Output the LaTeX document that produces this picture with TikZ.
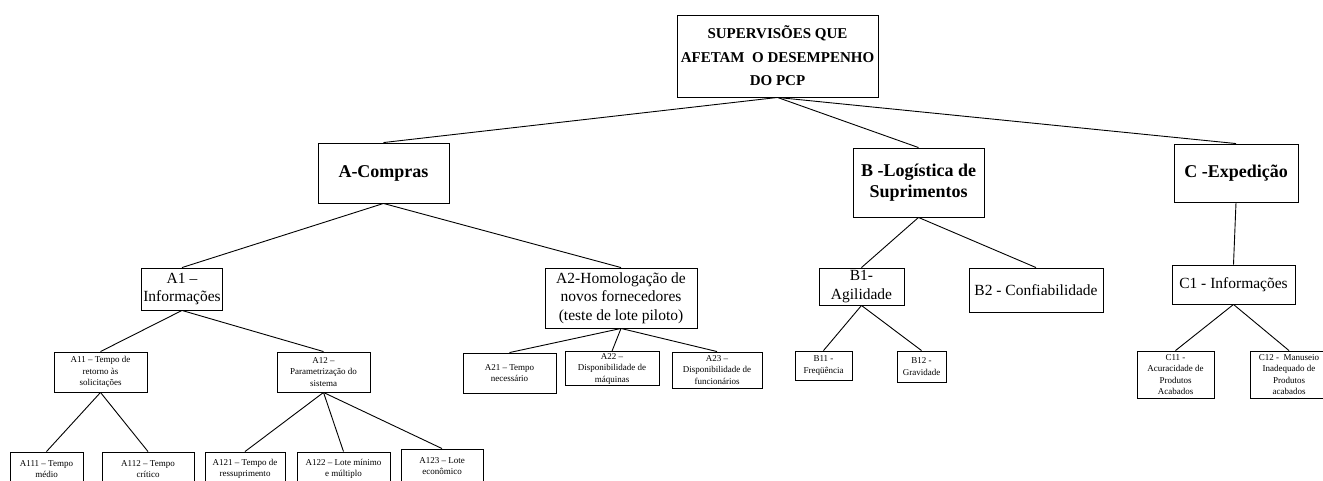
\documentclass[tikz,border=0pt]{standalone}
\usepackage{fontspec}
\setmainfont{Liberation Serif}
\usetikzlibrary{positioning}

\newcommand{\fsz}[2]{\fontsize{#1}{#2}\selectfont}

\tikzset{
    box/.style={draw, rectangle, align=center, inner sep=1.5pt, line width=0.9pt},
    topbox/.style={box, font=\bfseries\fsz{15}{23.5}},
    secbox/.style={box, font=\bfseries\fsz{18}{21}},
    midbox/.style={box, font=\fsz{15.5}{18.5}},
    leafbox/.style={box, font=\fsz{9}{11.5}},
    link/.style={line width=0.9pt},
}

\begin{document}
\begin{tikzpicture}[x=1pt, y=-1pt]
    \useasboundingbox (0,0) rectangle (1323,480);

    % root
    \node[topbox, minimum width=201, minimum height=82] (root) at (777.5,56)
        {SUPERVISÕES QUE\\AFETAM~ O DESEMPENHO\\DO PCP};

    % first level
    \node[secbox, minimum width=131, minimum height=60] (compras) at (383.5,173) {A-Compras};
    \node[secbox, minimum width=131, minimum height=69] (logist) at (918.5,182.5) {B -Logística de\\Suprimentos};
    \node[secbox, minimum width=124, minimum height=58] (exped) at (1236,173) {C -Expedição};

    % second level
    \node[midbox, minimum width=80, minimum height=42] (a1) at (182,289) {A1 –\\Informações};
    \node[midbox, minimum width=152, minimum height=60] (a2) at (621,298)
        {A2-Homologação de\\novos fornecedores\\(teste de lote piloto)};
    \node[midbox, minimum width=85, minimum height=37] (b1) at (861.5,286.5) {B1-\\Agilidade};
    \node[midbox, minimum width=134, minimum height=44] (b2) at (1036,290) {B2 - Confiabilidade};
    \node[midbox, minimum width=123, minimum height=39] (c1) at (1233.5,284.5) {C1 - Informações};

    % third level
    \node[leafbox, minimum width=93, minimum height=40] (a11) at (100.5,372)
        {A11 – Tempo de\\retorno às\\solicitações};
    \node[leafbox, minimum width=93, minimum height=40] (a12) at (323.5,372)
        {A12 –\\Parametrização do\\sistema};
    \node[leafbox, minimum width=93, minimum height=40] (a21) at (509.5,373) {A21 – Tempo\\necessário};
    \node[leafbox, minimum width=94, minimum height=33] (a22) at (612,368.5)
        {A22 –\\Disponibilidade de\\máquinas};
    \node[leafbox, minimum width=90, minimum height=36] (a23) at (717,370)
        {A23 –\\Disponibilidade de\\funcionários};
    \node[leafbox, minimum width=57, minimum height=29] (b11) at (823.5,365.5) {B11 -\\Freqüência};
    \node[leafbox, minimum width=49, minimum height=31] (b12) at (921.5,366.5) {B12 -\\Gravidade};
    \node[leafbox, minimum width=77, minimum height=47] (c11) at (1175.5,374.5)
        {C11 -\\Acuracidade de\\Produtos\\Acabados};
    \node[leafbox, minimum width=78, minimum height=47] (c12) at (1289,374.5)
        {C12 -~ Manuseio\\Inadequado de\\Produtos\\acabados};

    % fourth level (runs off the bottom edge)
    \node[leafbox, minimum width=73, minimum height=34] (a111) at (46.5,469) {A111 – Tempo\\médio};
    \node[leafbox, minimum width=92, minimum height=34] (a112) at (148,469) {A112 – Tempo\\crítico};
    \node[leafbox, minimum width=80, minimum height=34] (a121) at (245,469) {A121 – Tempo de\\ressuprimento};
    \node[leafbox, minimum width=93, minimum height=34] (a122) at (343.5,469) {A122 – Lote mínimo\\e múltiplo};
    \node[leafbox, minimum width=82, minimum height=34] (a123) at (442,466) {A123 – Lote\\econômico};

    % tree edges
    \foreach \child in {compras, logist, exped}
        \draw[link] (root.south) -- (\child.north);
    \foreach \child in {a1, a2}
        \draw[link] (compras.south) -- (\child.north);
    \foreach \child in {b1, b2}
        \draw[link] (logist.south) -- (\child.north);
    \draw[link] (exped.south) -- (c1.north);
    \foreach \child in {a11, a12}
        \draw[link] (a1.south) -- (\child.north);
    \foreach \child in {a21, a22, a23}
        \draw[link] (a2.south) -- (\child.north);
    \foreach \child in {b11, b12}
        \draw[link] (b1.south) -- (\child.north);
    \foreach \child in {c11, c12}
        \draw[link] (c1.south) -- (\child.north);
    \foreach \child in {a111, a112}
        \draw[link] (a11.south) -- (\child.north);
    \foreach \child in {a121, a122, a123}
        \draw[link] (a12.south) -- (\child.north);
\end{tikzpicture}
\end{document}
